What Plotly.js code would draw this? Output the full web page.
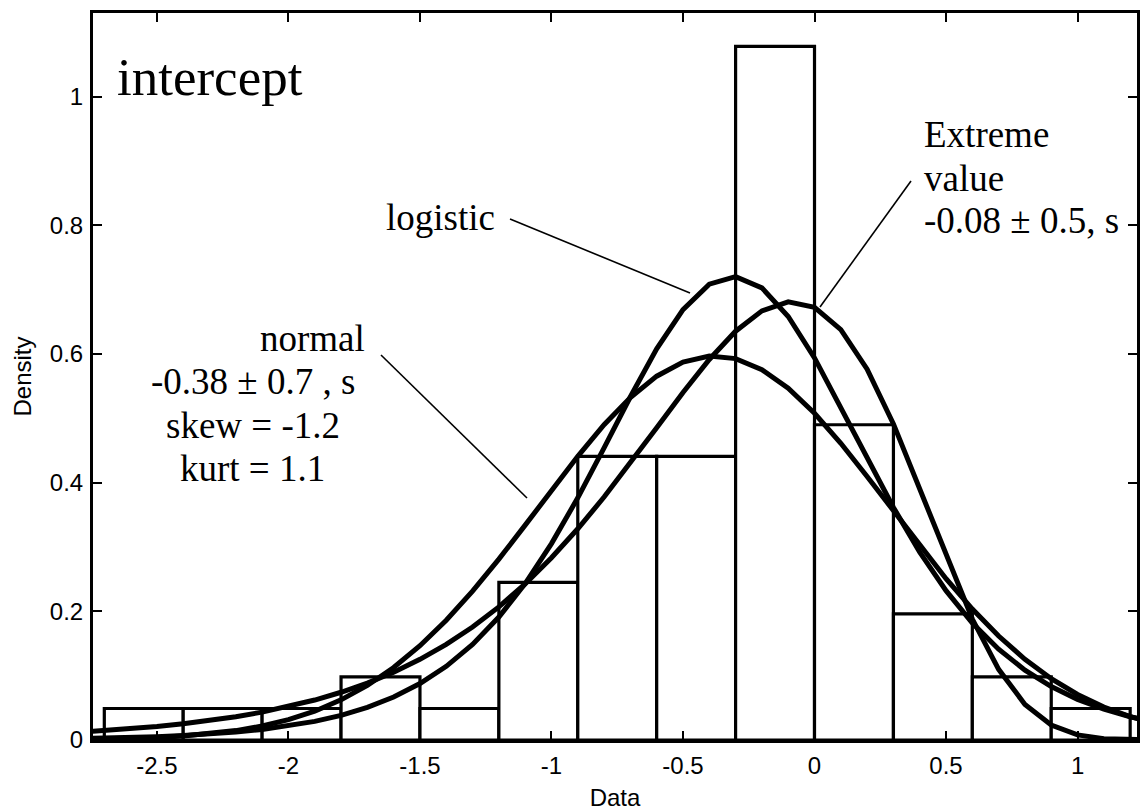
<!DOCTYPE html>
<html>
<head>
<meta charset="utf-8">
<script src="https://cdn.plot.ly/plotly-3.0.1.min.js"></script>
<style>html,body{margin:0;padding:0;background:#fff;}#chart{width:1141px;height:811px;}</style>
</head>
<body>
<div id="chart"></div>
<script>
// Histogram (density) bins
const binCenters = [-2.55,-2.25,-1.95,-1.65,-1.35,-1.05,-0.75,-0.45,-0.15,0.15,0.45,0.75,1.05];
const binDensity = [0.049,0.049,0.049,0.098,0.049,0.245,0.441,0.441,1.078,0.490,0.196,0.098,0.049];

// Fitted curves
const curveX = [-2.8,-2.7,-2.6,-2.5,-2.4,-2.3,-2.2,-2.1,-2.0,-1.9,-1.8,-1.7,-1.6,-1.5,-1.4,-1.3,-1.2,-1.1,-1.0,-0.9,-0.8,-0.7,-0.6,-0.5,-0.4,-0.3,-0.2,-0.1,0.0,0.1,0.2,0.3,0.4,0.5,0.6,0.7,0.8,0.9,1.0,1.1,1.2,1.3];
const normalY = [0.0008,0.0014,0.0024,0.0039,0.0062,0.0096,0.0146,0.0217,0.0316,0.0448,0.0624,0.0848,0.1127,0.1465,0.1861,0.2313,0.2811,0.3340,0.3881,0.4409,0.4900,0.5323,0.5655,0.5875,0.5967,0.5928,0.5757,0.5468,0.5078,0.4612,0.4095,0.3556,0.3019,0.2507,0.2035,0.1616,0.1254,0.0952,0.0707,0.0513,0.0364,0.0253];
const logisticY = [0.0022,0.0029,0.0039,0.0052,0.0070,0.0093,0.0123,0.0164,0.0218,0.0289,0.0383,0.0506,0.0667,0.0877,0.1145,0.1486,0.1911,0.2432,0.3053,0.3764,0.4540,0.5335,0.6080,0.6690,0.7085,0.7203,0.7027,0.6583,0.5939,0.5177,0.4381,0.3615,0.2921,0.2321,0.1819,0.1411,0.1085,0.0830,0.0632,0.0479,0.0362,0.0273];
const extremeY = [0.0121,0.0145,0.0174,0.0209,0.0251,0.0301,0.0361,0.0433,0.0519,0.0621,0.0742,0.0885,0.1054,0.1254,0.1486,0.1757,0.2069,0.2426,0.2832,0.3283,0.3776,0.4305,0.4854,0.5401,0.5915,0.6354,0.6670,0.6810,0.6724,0.6378,0.5763,0.4913,0.3904,0.2851,0.1880,0.1098,0.0553,0.0233,0.0080,0.0021,0.0004,0.0001];

// Axis ticks
const xTickVals = [-2.5,-2,-1.5,-1,-0.5,0,0.5,1];
const xTickText = ['-2.5','-2','-1.5','-1','-0.5','0','0.5','1'];
const yTickVals = [0,0.2,0.4,0.6,0.8,1];
const yTickText = ['0','0.2','0.4','0.6','0.8','1'];

// Text labels
const labelTitle = 'intercept';
const labelLogistic = 'logistic';
const labelNormal = ['normal','-0.38 \u00b1 0.7 , s','skew = -1.2','kurt = 1.1'];
const labelExtreme = ['Extreme','value','-0.08 \u00b1 0.5, s'];

const W = 1141, H = 811;
const L = 93, R = 1137, T = 13, B = 740;
const px = x => (x - L) / (R - L);
const py = y => (B - y) / (B - T);

const serif = 'Liberation Serif, Times New Roman, serif';
const sans = 'Liberation Sans, Arial, sans-serif';

const traces = [
  {type:'bar', x:binCenters, y:binDensity, width:0.3,
   marker:{color:'rgba(255,255,255,1)', line:{color:'#000', width:3.2}}, hoverinfo:'skip'},
  {type:'scatter', mode:'lines', x:curveX, y:normalY, line:{color:'#000', width:5}, hoverinfo:'skip'},
  {type:'scatter', mode:'lines', x:curveX, y:logisticY, line:{color:'#000', width:5}, hoverinfo:'skip'},
  {type:'scatter', mode:'lines', x:curveX, y:extremeY, line:{color:'#000', width:5}, hoverinfo:'skip'}
];

function ann(text, x, y, size, xanchor) {
  return {text:text, xref:'paper', yref:'paper', x:px(x), y:py(y), xanchor:xanchor, yanchor:'middle',
          showarrow:false, font:{family:serif, size:size, color:'#000'}, borderpad:0, borderwidth:0};
}

const annotations = [
  ann(labelTitle, 117, 77, 53, 'left'),
  ann(labelLogistic, 386, 217, 37, 'left'),
  ann(labelNormal[0], 312, 338, 37, 'center'),
  ann(labelNormal[1], 253, 381, 37, 'center'),
  ann(labelNormal[2], 253, 425, 37, 'center'),
  ann(labelNormal[3], 252, 468, 37, 'center'),
  ann(labelExtreme[0], 924, 135, 37, 'left'),
  ann(labelExtreme[1], 924, 178, 37, 'left'),
  ann(labelExtreme[2], 924, 220, 37, 'left')
];

function seg(x0, y0, x1, y1) {
  return {type:'line', xref:'paper', yref:'paper', x0:px(x0), y0:py(y0), x1:px(x1), y1:py(y1),
          line:{color:'#000', width:1.6}};
}
const shapes = [
  seg(510, 219, 690, 293),
  seg(381, 355, 527, 498),
  seg(911, 181, 820, 307)
];

const layout = {
  width:W, height:H,
  margin:{l:L, r:W-R, t:T, b:H-B, pad:0},
  paper_bgcolor:'#fff', plot_bgcolor:'#fff',
  showlegend:false,
  barmode:'overlay',
  xaxis:{range:[-2.743,1.226], tickmode:'array', tickvals:xTickVals, ticktext:xTickText,
         ticks:'inside', ticklen:9, tickwidth:2, tickcolor:'#000',
         showline:true, linewidth:3, linecolor:'#000', mirror:'ticks',
         showgrid:false, zeroline:false, ticklabelstandoff:2,
         tickfont:{family:sans, size:24, color:'#000'},
         title:{text:'Data', font:{family:sans, size:24, color:'#000'}, standoff:12}},
  yaxis:{range:[0,1.13], tickmode:'array', tickvals:yTickVals, ticktext:yTickText,
         ticks:'inside', ticklen:9, tickwidth:2, tickcolor:'#000',
         showline:true, linewidth:3, linecolor:'#000', mirror:'ticks',
         showgrid:false, zeroline:false, ticklabelstandoff:2,
         tickfont:{family:sans, size:24, color:'#000'},
         title:{text:'Density', font:{family:sans, size:24, color:'#000'}, standoff:12}},
  annotations:annotations,
  shapes:shapes
};

Plotly.newPlot('chart', traces, layout, {displayModeBar:false, staticPlot:true});
</script>
</body>
</html>
